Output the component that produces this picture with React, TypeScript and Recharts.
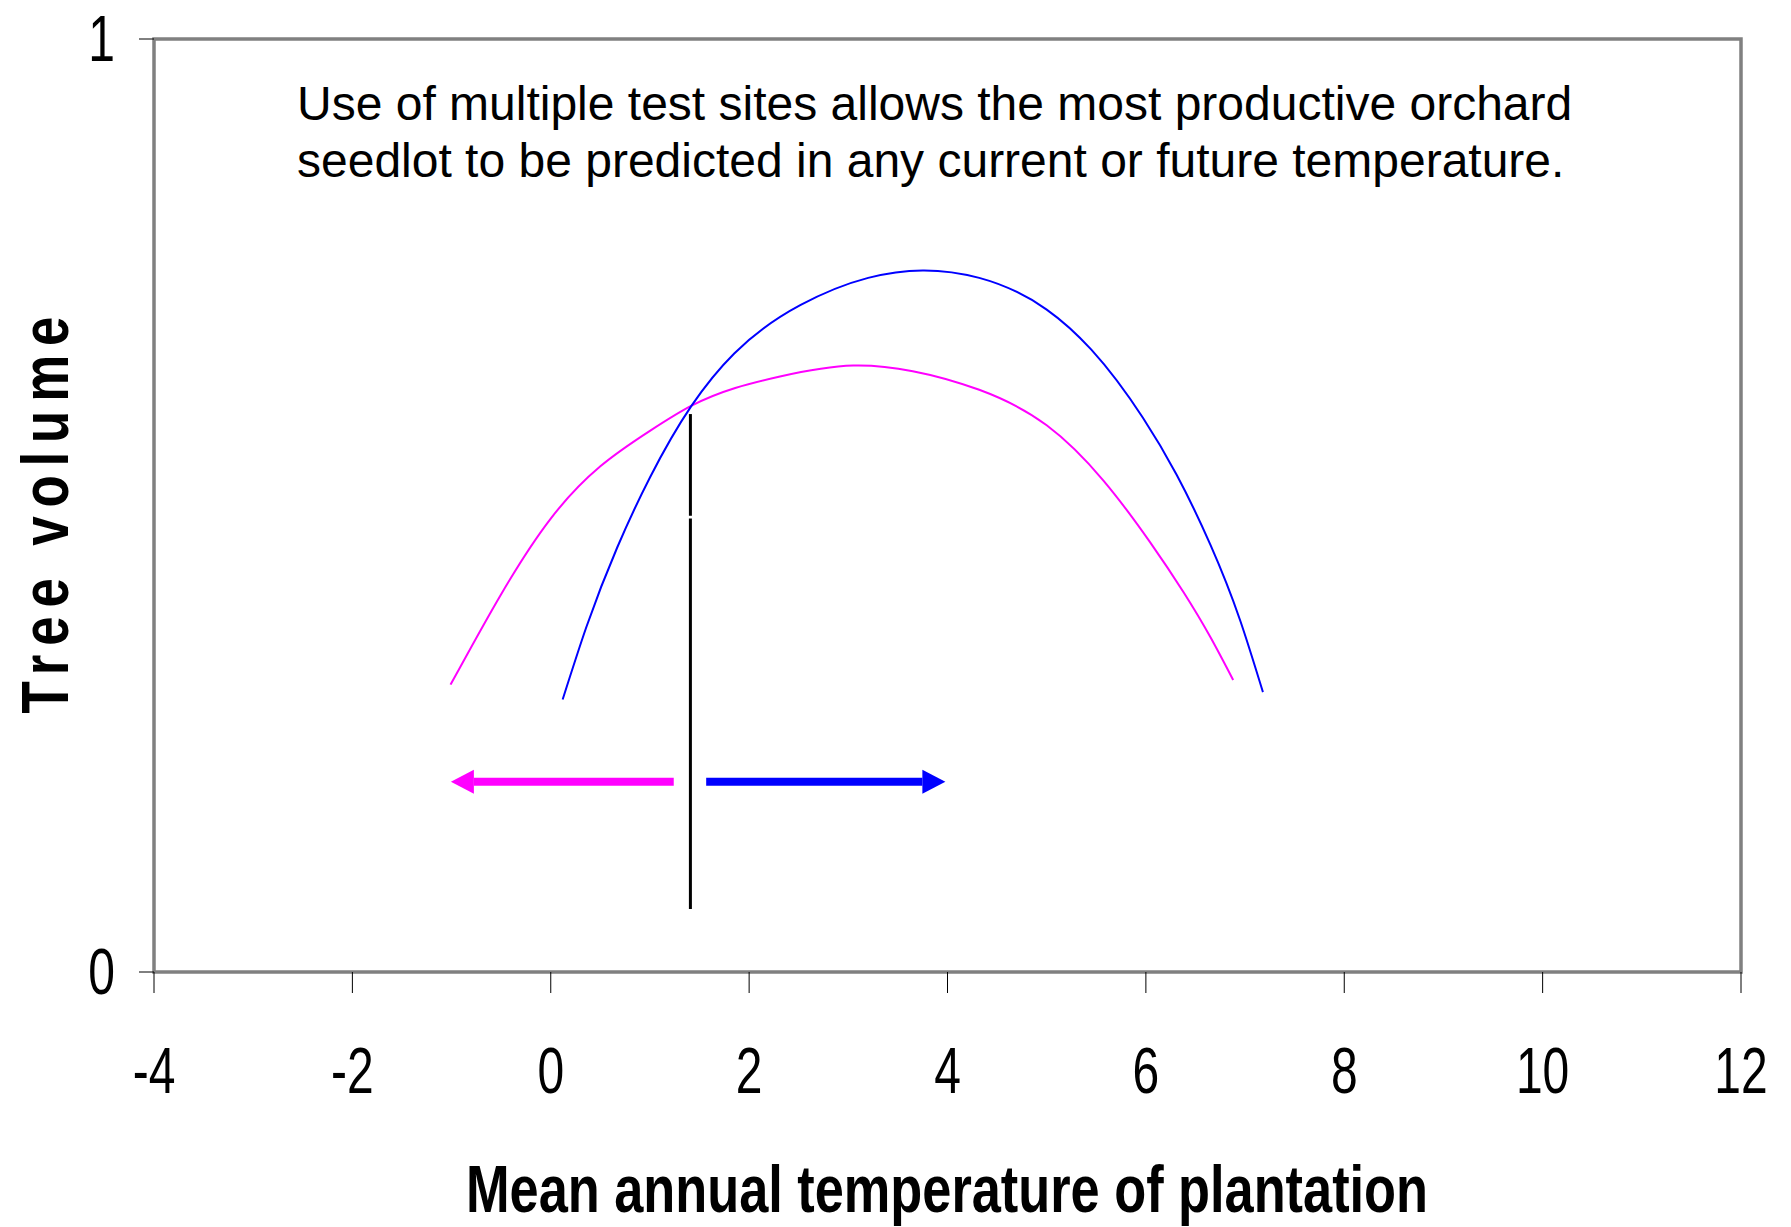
import {
  ComposedChart,
  Line,
  XAxis,
  YAxis,
  ReferenceLine,
  ReferenceArea,
} from "recharts";

const X_TICKS = [-4, -2, 0, 2, 4, 6, 8, 10, 12];
const Y_TICKS = [0, 1];

// seedlot curves (temperature, tree volume)
const MAGENTA_X = [-1.01, -0.5, 0, 0.5, 1.0, 1.42, 2.3, 3.05, 3.65, 4.32, 5.0, 5.57, 6.04, 6.38, 6.65, 6.88];
const MAGENTA_Y = [0.308, 0.405, 0.486, 0.542, 0.58, 0.607, 0.638, 0.65, 0.644, 0.624, 0.586, 0.527, 0.461, 0.407, 0.359, 0.313];

const BLUE_X = [0.12, 0.36, 0.67, 1.0, 1.42, 1.85, 2.52, 3.2, 3.75, 4.32, 5.0, 5.45, 5.97, 6.31, 6.65, 6.95, 7.18];
const BLUE_Y = [0.292, 0.37, 0.455, 0.53, 0.607, 0.663, 0.715, 0.744, 0.752, 0.744, 0.71, 0.667, 0.594, 0.533, 0.458, 0.377, 0.3];

// crossover marker and arrows
const MARKER_X = 1.408;
const MARKER_SEGMENTS = [
  [0.598, 0.489],
  [0.486, 0.0675],
];
const ARROW_Y = 0.204;
const MAGENTA_ARROW_X = [1.24, -0.775]; // tail, head base
const BLUE_ARROW_X = [1.567, 3.747];

const NOTE_LINES = [
  "Use of multiple test sites allows the most productive orchard",
  "seedlot to be predicted in any current or future temperature.",
];

const FONT = "'Liberation Sans', Arial, Helvetica, sans-serif";
const MAGENTA = "#ff00ff";
const BLUE = "#0000ff";

const toPoints = (xs: number[], ys: number[]) => xs.map((x, i) => ({ x, y: ys[i] }));
const magentaData = toPoints(MAGENTA_X, MAGENTA_Y);
const blueData = toPoints(BLUE_X, BLUE_Y);
const magentaArrow = MAGENTA_ARROW_X.map((x) => ({ x, y: ARROW_Y }));
const blueArrow = BLUE_ARROW_X.map((x) => ({ x, y: ARROW_Y }));

// natural cubic spline in x (the built-in "natural" is parametric by index)
function splineX(context: any) {
  let xs: number[] = [];
  let ys: number[] = [];
  return {
    areaStart() {},
    areaEnd() {},
    lineStart() {
      xs = [];
      ys = [];
    },
    point(x: number, y: number) {
      xs.push(+x);
      ys.push(+y);
    },
    lineEnd() {
      const n = xs.length;
      if (!n) return;
      context.moveTo(xs[0], ys[0]);
      if (n < 3) {
        for (let i = 1; i < n; i++) context.lineTo(xs[i], ys[i]);
        return;
      }
      const h: number[] = [];
      for (let i = 0; i < n - 1; i++) h[i] = xs[i + 1] - xs[i];
      const M = new Array(n).fill(0);
      const a: number[] = [];
      const b: number[] = [];
      const c: number[] = [];
      const d: number[] = [];
      for (let i = 1; i < n - 1; i++) {
        a[i] = h[i - 1];
        b[i] = 2 * (h[i - 1] + h[i]);
        c[i] = h[i];
        d[i] = 6 * ((ys[i + 1] - ys[i]) / h[i] - (ys[i] - ys[i - 1]) / h[i - 1]);
      }
      for (let i = 2; i < n - 1; i++) {
        const w = a[i] / b[i - 1];
        b[i] -= w * c[i - 1];
        d[i] -= w * d[i - 1];
      }
      M[n - 2] = d[n - 2] / b[n - 2];
      for (let i = n - 3; i >= 1; i--) M[i] = (d[i] - c[i] * M[i + 1]) / b[i];
      for (let i = 0; i < n - 1; i++) {
        const s = (ys[i + 1] - ys[i]) / h[i];
        const d0 = s - (h[i] * (2 * M[i] + M[i + 1])) / 6;
        const d1 = s + (h[i] * (M[i] + 2 * M[i + 1])) / 6;
        context.bezierCurveTo(
          xs[i] + h[i] / 3,
          ys[i] + (d0 * h[i]) / 3,
          xs[i + 1] - h[i] / 3,
          ys[i + 1] - (d1 * h[i]) / 3,
          xs[i + 1],
          ys[i + 1]
        );
      }
    },
  };
}

const arrowHead = (color: string, dir: number) => (props: any) => {
  const { cx, cy, index } = props;
  if (index !== 1) return <g key={`n${index}`} />;
  return (
    <polygon
      key={`h${index}`}
      points={`${cx},${cy - 12} ${cx + dir * 23},${cy} ${cx},${cy + 12}`}
      fill={color}
    />
  );
};

function XTick({ x, y, payload }: any) {
  return (
    <g transform={`translate(${x},${y})`}>
      <text transform="scale(0.75,1)" y={100} textAnchor="middle" fontSize={64} fontFamily={FONT} fill="#000">
        {payload.value}
      </text>
    </g>
  );
}

function YTick({ x, y, payload }: any) {
  return (
    <g transform={`translate(${x - 24},${y})`}>
      <text transform="scale(0.75,1)" y={22} textAnchor="end" fontSize={64} fontFamily={FONT} fill="#000">
        {payload.value}
      </text>
    </g>
  );
}

export default function App() {
  return (
    <div style={{ position: "absolute", left: 0, top: 0, width: 1791, height: 1227, background: "#fff" }}>
      <ComposedChart width={1791} height={1227} margin={{ top: 39, right: 50, bottom: 0, left: 0 }}>
        <XAxis
          type="number"
          dataKey="x"
          domain={[-4, 12]}
          ticks={X_TICKS}
          interval={0}
          allowDataOverflow
          height={255}
          axisLine={false}
          tickLine={{ stroke: "#000", strokeWidth: 1 }}
          tickSize={21}
          tickMargin={0}
          tick={<XTick />}
          label={{
            content: () => (
              <text
                x={947}
                y={1212}
                textAnchor="middle"
                fontSize={66}
                fontWeight="bold"
                fontFamily={FONT}
                fill="#000"
                textLength={962}
                lengthAdjust="spacingAndGlyphs"
              >
                Mean annual temperature of plantation
              </text>
            ),
          }}
        />
        <YAxis
          type="number"
          domain={[0, 1]}
          ticks={Y_TICKS}
          interval={0}
          width={154}
          axisLine={false}
          tickLine={{ stroke: "#000", strokeWidth: 1 }}
          tickSize={15}
          tickMargin={0}
          tick={<YTick />}
          label={{
            content: () => (
              <text
                transform="translate(68,515) rotate(-90) scale(0.8,1)"
                textAnchor="middle"
                fontSize={66}
                fontWeight="bold"
                fontFamily={FONT}
                fill="#000"
                textLength={496}
                lengthAdjust="spacing"
              >
                Tree volume
              </text>
            ),
          }}
        />
        <ReferenceArea
          x1={-4}
          x2={12}
          y1={0}
          y2={1}
          fill="none"
          fillOpacity={0}
          stroke="#808080"
          strokeWidth={3.5}
          ifOverflow="visible"
        />
        <Line
          data={magentaData}
          dataKey="y"
          type={splineX as any}
          stroke={MAGENTA}
          strokeWidth={2}
          dot={false}
          isAnimationActive={false}
        />
        <Line
          data={blueData}
          dataKey="y"
          type={splineX as any}
          stroke={BLUE}
          strokeWidth={2}
          dot={false}
          isAnimationActive={false}
        />
        {MARKER_SEGMENTS.map(([y1, y2], i) => (
          <ReferenceLine
            key={i}
            segment={[
              { x: MARKER_X, y: y1 },
              { x: MARKER_X, y: y2 },
            ]}
            stroke="#000"
            strokeWidth={3}
          />
        ))}
        <Line
          data={magentaArrow}
          dataKey="y"
          type="linear"
          stroke={MAGENTA}
          strokeWidth={8}
          dot={arrowHead(MAGENTA, -1)}
          activeDot={false}
          isAnimationActive={false}
        />
        <Line
          data={blueArrow}
          dataKey="y"
          type="linear"
          stroke={BLUE}
          strokeWidth={8}
          dot={arrowHead(BLUE, 1)}
          activeDot={false}
          isAnimationActive={false}
        />
      </ComposedChart>
      <div
        style={{
          position: "absolute",
          left: 297,
          top: 75,
          fontFamily: FONT,
          fontSize: 48,
          lineHeight: "57px",
          color: "#000",
          whiteSpace: "nowrap",
        }}
      >
        {NOTE_LINES.map((t) => (
          <div key={t}>{t}</div>
        ))}
      </div>
    </div>
  );
}
